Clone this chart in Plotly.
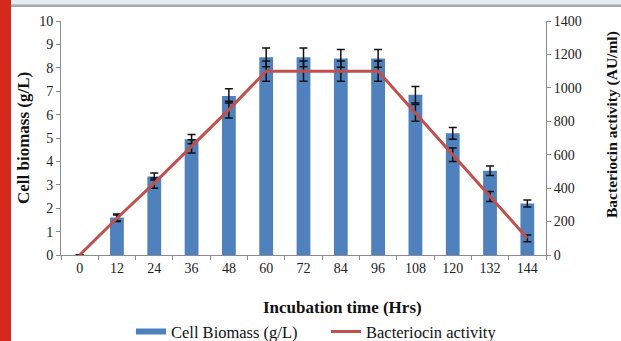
import plotly.graph_objects as go

hours = ["0", "12", "24", "36", "48", "60", "72", "84", "96", "108", "120", "132", "144"]
biomass = [0, 1.6, 3.35, 4.95, 6.8, 8.45, 8.45, 8.4, 8.4, 6.85, 5.2, 3.6, 2.2]
biomass_err = [None, 0.15, 0.15, 0.2, 0.3, 0.4, 0.4, 0.38, 0.38, 0.35, 0.25, 0.2, 0.15]
bacteriocin = [0, 220, 430, 650, 870, 1100, 1100, 1100, 1100, 850, 600, 350, 100]
bacteriocin_err = [None, 20, 30, 40, 50, 60, 60, 60, 60, 50, 40, 30, 20]

x_title = "Incubation time (Hrs)"
y_title = "Cell biomass (g/L)"
y2_title = "Bacteriocin activity (AU/ml)"

BLUE = "#4f81bd"
RED = "#c0504d"
FONT = "Liberation Serif"

fig = go.Figure()
fig.add_trace(go.Bar(
    x=hours, y=biomass, name="Cell Biomass (g/L)", showlegend=False,
    marker=dict(color=BLUE, line=dict(width=0)),
    error_y=dict(type="data", array=biomass_err, color="#111111", thickness=1.5, width=4),
    yaxis="y",
))
# legend proxy with a wide rectangular swatch like the original
fig.add_trace(go.Scatter(
    x=[None], y=[None], name="Cell Biomass (g/L)", mode="lines",
    line=dict(color=BLUE, width=6), yaxis="y",
))
fig.add_trace(go.Scatter(
    x=hours, y=bacteriocin, name="Bacteriocin activity", mode="lines",
    line=dict(color=RED, width=3),
    error_y=dict(type="data", array=bacteriocin_err, color="#111111", thickness=1.5, width=4),
    yaxis="y2",
))

axis_common = dict(
    showgrid=False, zeroline=False, showline=True, linecolor="#8c8c8c", linewidth=1,
    ticks="outside", tickcolor="#8c8c8c", ticklen=4, automargin=False,
    tickfont=dict(family=FONT, size=14, color="#222222"),
)

fig.update_layout(
    width=621, height=341,
    margin=dict(l=61, r=75, t=21, b=86, autoexpand=False),
    paper_bgcolor="white", plot_bgcolor="white",
    font=dict(family=FONT, color="#111111"),
    bargap=0.63,
    showlegend=True,
    legend=dict(orientation="h", xref="container", yref="container",
                x=131/621, y=0.027, xanchor="left", yanchor="middle",
                font=dict(family=FONT, size=16.5, color="#111111"),
                entrywidth=150, entrywidthmode="pixels",
                tracegroupgap=0, traceorder="normal"),
    xaxis=dict(**axis_common, type="category", tickson="boundaries", range=[-0.5, 12.5]),
    yaxis=dict(**axis_common, range=[0, 10], dtick=1),
    yaxis2=dict(**axis_common, range=[0, 1400], dtick=200, overlaying="y", side="right"),
    annotations=[
        dict(text="<b>" + x_title + "</b>", xref="paper", yref="paper", x=(342-61)/485, y=(255-307)/234,
             xanchor="center", yanchor="middle", showarrow=False, font=dict(family=FONT, size=17, color="#111111")),
        dict(text="<b>" + y_title + "</b>", xref="paper", yref="paper", x=(23-61)/485, y=(255-138)/234,
             xanchor="center", yanchor="middle", textangle=-90, showarrow=False,
             font=dict(family=FONT, size=17, color="#111111")),
        dict(text="<b>" + y2_title + "</b>", xref="paper", yref="paper", x=(612-61)/485, y=(255-125)/234,
             xanchor="center", yanchor="middle", textangle=-90, showarrow=False,
             font=dict(family=FONT, size=15.5, color="#111111")),
    ],
    shapes=[
        dict(type="rect", xref="paper", yref="paper", x0=-61/485, x1=-50/485, y0=-86/234, y1=1+21/234,
             fillcolor="#d42a1e", line=dict(width=0), layer="above"),
        dict(type="rect", xref="paper", yref="paper", x0=-50/485, x1=1+75/485, y0=1+16/234, y1=1+21/234,
             fillcolor="#e6ecf4", line=dict(width=0), layer="above"),
        dict(type="rect", xref="paper", yref="paper", x0=-50/485, x1=1+75/485, y0=1+14/234, y1=1+16.5/234,
             fillcolor="#a4a8ac", line=dict(width=0), layer="above"),
    ],
)

fig.write_html("out.html", config={"displayModeBar": False},
               post_script="document.body.style.margin='0';document.body.style.overflow='hidden';")
